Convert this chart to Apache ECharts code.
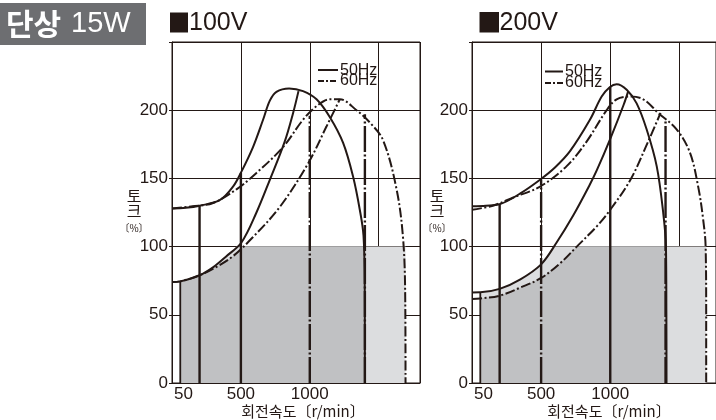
<!DOCTYPE html>
<html>
<head>
<meta charset="utf-8">
<script src="https://cdn.jsdelivr.net/npm/echarts@6/dist/echarts.min.js"></script>
<style>
html,body{margin:0;padding:0;background:#fff;}
#c{width:716px;height:420px;}
</style>
</head>
<body>
<div id="c"></div>
<script>
// ---------- tick labels ----------
const speedTicks = [50, 500, 1000, 1500];
const torqueTicks = [0, 50, 100, 150, 200];

// ---------- 100V (speed r/min, torque %) ----------
const v100Max50 = [[0,128],[100,128.5],[200,130],[346,134],[443,144],[504,155],[588,173],[661,193],[710,207],[758,213.5],[850,216],[951,214],[1049,208],[1145,195],[1242,176],[1315,151],[1363,127],[1390,108],[1399,70],[1400,0]];
const v100Max60 = [[0,128],[150,129.5],[298,132],[468,142],[613,154],[806,173],[951,193],[1049,203],[1145,208],[1218,208],[1339,200],[1436,191],[1532,178],[1630,142],[1678,105],[1693,60],[1695,0]];
const v100Low50 = [[0,74],[60,74.5],[200,79],[300,85],[395,93],[504,103],[613,125],[710,149],[818,177],[879,198],[918,214]];
const v100Low60 = [[0,74],[60,74.5],[200,79],[320,85],[443,93],[588,107],[782,129],[988,161],[1121,188],[1218,208]];
const v100VertSolid = [[60,74.5],[200,130],[500,154]];
const v100VertDash = [[1000,196],[1400,197]];
const v100ShadeLight = [[60,74.5],[200,79],[300,85],[395,93],[470,100],[1695,100]];
const v100ShadeDark = [[60,74.5],[200,79],[320,85],[443,93],[510,100],[1400,100]];

// ---------- 200V ----------
const v200Max50 = [[0,129.5],[100,130],[199,131],[350,139],[492,149],[600,158],[709,170],[853,193],[938,210],[998,217],[1046,219],[1119,215],[1191,205],[1263,186],[1336,159],[1383,125],[1403,100],[1406,50],[1407,0]];
const v200Max60 = [[0,127],[150,130],[299,136],[492,144],[685,159],[829,177],[974,200],[1046,208],[1142,210],[1239,208],[1347,198],[1480,186],[1576,169],[1636,144],[1672,120],[1690,100],[1694,50],[1694,0]];
const v200Low50 = [[0,66.4],[60,66.5],[200,69],[350,76],[500,87],[612,103],[733,123],[850,145],[903,156],[1000,179],[1097,204],[1130,214]];
const v200Low60 = [[0,61.6],[60,62],[200,64],[350,70],[500,77],[640,88],[758,100],[904,115],[1000,127],[1146,149],[1270,176],[1364,198]];
const v200VertSolid = [[60,66.5],[200,131],[1000,217]];
const v200VertDash = [[500,149],[1400,193]];
const v200ShadeLight = [[60,66.5],[200,69],[350,76],[500,87],[592,100],[1694,100]];
const v200ShadeDark = [[60,62],[200,64],[350,70],[500,77],[640,88],[758,100],[1400,100]];

// ---------- styling ----------
const CL = '#231815';
const DARK = '#c0c1c3';
const LIGHT = '#dcdddf';
const DASHDOT = [10, 2.5, 2, 2.5];
const DASHDOT_V = [26, 2.5, 2, 2.5];
const FONT = 'Liberation Sans';
const KFONT = 'Noto Sans CJK KR';

function curve(data, gi, dashed) {
  return {type:'line', xAxisIndex:gi, yAxisIndex:gi, data:data, smooth:0.35, symbol:'none', silent:true, z:5,
    lineStyle:{color:CL, width:2, type: dashed ? DASHDOT : 'solid', cap:'butt'}};
}
function vline(pt, gi, dashed, w) {
  return {type:'line', xAxisIndex:gi, yAxisIndex:gi, data:[[pt[0],0],[pt[0],pt[1]]], symbol:'none', silent:true, z:4,
    lineStyle:{color:CL, width:w, type: dashed ? DASHDOT_V : 'solid', cap:'butt'}};
}
function area(data, gi, color, z) {
  return {type:'line', xAxisIndex:gi, yAxisIndex:gi, data:data, symbol:'none', silent:true, z:z,
    lineStyle:{width:0, opacity:0}, areaStyle:{color:color, opacity:1}};
}
function xAx(gi, max) {
  return {gridIndex:gi, type:'value', min:0, max:max, interval:500,
    axisLine:{show:true, onZero:false, lineStyle:{color:CL, width:1}},
    axisTick:{show:false},
    splitLine:{show:true, lineStyle:{color:CL, width:1}},
    axisLabel:{customValues:speedTicks, color:CL, fontSize:17, fontFamily:FONT, margin:3, showMaxLabel:false,
      formatter: function(v){ return v === speedTicks[0] ? '{s|' + v + '}' : String(v); },
      rich:{s:{color:CL, fontSize:17, fontFamily:FONT, padding:[0,0,0,9]}}}};
}
function yAx(gi) {
  return {gridIndex:gi, type:'value', min:0, max:250, interval:50,
    axisLine:{show:true, onZero:false, lineStyle:{color:CL, width:1}},
    axisTick:{show:true, inside:false, length:3, lineStyle:{color:CL, width:1}},
    splitLine:{show:true, lineStyle:{color:CL, width:1}},
    axisLabel:{customValues:torqueTicks, color:CL, fontSize:17, fontFamily:FONT, margin:4}};
}

const series = [];
[[0, v100Max50, v100Max60, v100Low50, v100Low60, v100VertSolid, v100VertDash, v100ShadeLight, v100ShadeDark],
 [1, v200Max50, v200Max60, v200Low50, v200Low60, v200VertSolid, v200VertDash, v200ShadeLight, v200ShadeDark]]
.forEach(function(s){
  const gi = s[0];
  series.push(area(s[7], gi, LIGHT, 1));
  series.push(area(s[8], gi, DARK, 2));
  series.push(curve(s[1], gi, false));
  series.push(curve(s[2], gi, true));
  series.push(curve(s[3], gi, false));
  series.push(curve(s[4], gi, true));
  s[5].forEach(function(p, i){ series.push(vline(p, gi, false, i === 0 ? 1.8 : 2.4)); });
  s[6].forEach(function(p){ series.push(vline(p, gi, true, 2.4)); });
});

function txt(t, x, y, size, family, align, fill, weight) {
  return {type:'text', z:100, silent:true, style:{text:t, x:x, y:y, fill:fill || CL,
    fontSize:size, fontFamily:family, fontWeight: weight || 'normal',
    align: align || 'left', verticalAlign:'middle'}};
}
function legLine(x1, x2, y, dashed) {
  return {type:'line', z:100, silent:true, shape:{x1:x1, y1:y, x2:x2, y2:y},
    style:{stroke:CL, lineWidth:2, lineDash: dashed ? [6,2,2,2] : null}};
}

const graphics = [
  {type:'rect', z:99, silent:true, shape:{x:0, y:3, width:146, height:42}, style:{fill:'#6d6e71'}},
  txt('단상', 6, 23.5, 30, KFONT, 'left', '#ffffff', 'bold'),
  txt('15W', 71, 23.5, 29, FONT, 'left', '#ffffff', 'normal'),
  {type:'rect', z:99, silent:true, shape:{x:170, y:12.5, width:18, height:20}, style:{fill:CL}},
  txt('100V', 189, 23, 25, FONT),
  {type:'rect', z:99, silent:true, shape:{x:479.5, y:12, width:19.5, height:20.5}, style:{fill:CL}},
  txt('200V', 499.5, 23, 25, FONT),
  legLine(318, 338, 70, false), txt('50Hz', 340, 70.5, 16, 'Arial'),
  legLine(318, 338, 81, true), txt('60Hz', 340, 81, 16, 'Arial'),
  legLine(545, 563, 71.5, false), txt('50Hz', 565, 71.5, 16, 'Arial'),
  legLine(545, 563, 83, true), txt('60Hz', 565, 83, 16, 'Arial'),
  txt('토', 134, 195.5, 16, KFONT, 'center'), txt('크', 134, 211, 16, KFONT, 'center'), txt('〔%〕', 134, 228, 10, KFONT, 'center'),
  txt('토', 437, 195.5, 16, KFONT, 'center'), txt('크', 437, 211, 16, KFONT, 'center'), txt('〔%〕', 437, 228, 10, KFONT, 'center'),
  txt('회전속도〔r/min〕', 303, 411.5, 15, KFONT, 'center'),
  txt('회전속도〔r/min〕', 609, 411.5, 15, KFONT, 'center')
];

const chart = echarts.init(document.getElementById('c'), null, {renderer:'canvas', width:716, height:420});
chart.setOption({
  animation:false,
  backgroundColor:'#ffffff',
  grid:[
    {left:172, top:42, width:248, height:341, show:true, borderColor:CL, borderWidth:1, backgroundColor:'transparent'},
    {left:472, top:42, width:244, height:341, show:true, borderColor:CL, borderWidth:1, backgroundColor:'transparent'}
  ],
  xAxis:[xAx(0, 1800), xAx(1, 1765)],
  yAxis:[yAx(0), yAx(1)],
  series:series,
  graphic:graphics
});
</script>
</body>
</html>
